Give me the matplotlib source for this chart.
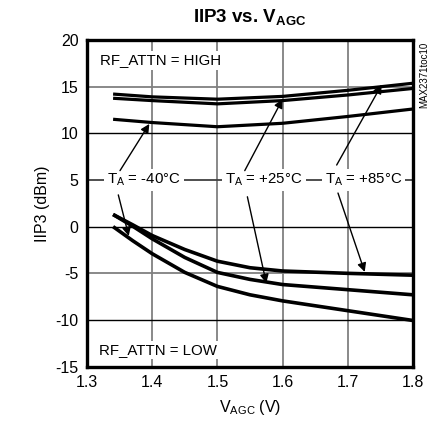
import matplotlib
matplotlib.use('Agg')
import matplotlib.pyplot as plt

plt.rcParams['font.family'] = ['Liberation Sans', 'DejaVu Sans']
plt.rcParams['mathtext.fontset'] = 'custom'
plt.rcParams['mathtext.rm'] = 'Liberation Sans'
plt.rcParams['mathtext.bf'] = 'Liberation Sans:bold'

# RF_ATTN = HIGH curves
vagc_high = [1.34, 1.4, 1.5, 1.6, 1.7, 1.8]
high_85 = [14.2, 13.9, 13.65, 13.95, 14.6, 15.36]
high_25 = [13.75, 13.5, 13.15, 13.5, 14.1, 14.8]
high_m40 = [11.5, 11.15, 10.7, 11.07, 11.8, 12.6]

# RF_ATTN = LOW curves
vagc_low = [1.34, 1.37, 1.4, 1.45, 1.5, 1.55, 1.6, 1.7, 1.8]
low_85 = [1.3, 0.2, -0.95, -2.45, -3.7, -4.4, -4.75, -5.0, -5.2]
low_25 = [1.3, 0.05, -1.3, -3.3, -4.9, -5.65, -6.2, -6.75, -7.3]
low_m40 = [0.0, -1.5, -2.9, -4.9, -6.4, -7.3, -7.95, -9.0, -10.05]

fig = plt.figure(figsize=(4.34, 4.30), dpi=100)
ax = fig.add_axes([0.2005, 0.1472, 0.751, 0.760])

for xv in [1.4, 1.5, 1.6, 1.7]:
    ax.axvline(xv, color='#808080', lw=1.3, zorder=1)
for yv, c in [(15, '#808080'), (10, 'black'), (5, '#404040'), (0, 'black'), (-5, '#808080'), (-10, 'black')]:
    ax.axhline(yv, color=c, lw=1.0 if c == 'black' else 1.3, zorder=1)

for ys in [high_85, high_25, high_m40]:
    ax.plot(vagc_high, ys, color='black', lw=2.3, zorder=3, solid_capstyle='butt')
for ys in [low_85, low_25, low_m40]:
    ax.plot(vagc_low, ys, color='black', lw=2.6, zorder=3, solid_capstyle='butt')

ax.set_xlim(1.3, 1.8)
ax.set_ylim(-15, 20)
ax.set_xticks([1.3, 1.4, 1.5, 1.6, 1.7, 1.8])
ax.set_xticklabels(['1.3', '1.4', '1.5', '1.6', '1.7', '1.8'])
ax.set_yticks([-15, -10, -5, 0, 5, 10, 15, 20])
ax.set_yticklabels(['-15', '-10', '-5', '0', '5', '10', '15', '20'])
ax.tick_params(length=0, labelsize=11.5, pad=6)
for s in ax.spines.values():
    s.set_linewidth(2.4)
    s.set_zorder(5)

box = dict(facecolor='white', edgecolor='none', pad=1.5)
ax.text(1.320, 17.8, 'RF_ATTN = HIGH', fontsize=10.8, va='center', ha='left', bbox=box, zorder=4)
ax.text(1.318, -13.2, 'RF_ATTN = LOW', fontsize=10.8, va='center', ha='left', bbox=box, zorder=4)

labels = [(1.3874, r'T$_{\mathregular{A}}$ = -40°C'),
          (1.5715, r'T$_{\mathregular{A}}$ = +25°C'),
          (1.7238, r'T$_{\mathregular{A}}$ = +85°C')]
for xc, lab in labels:
    ax.text(xc, 5.0, lab, fontsize=10.8, ha='center', va='center', bbox=dict(facecolor='white', edgecolor='none', pad=2), zorder=4)

arrow = dict(arrowstyle='-|>', color='black', lw=1.0, mutation_scale=13, shrinkA=0, shrinkB=0)
ax.annotate('', xy=(1.3956, 11.0), xytext=(1.3506, 6.0), arrowprops=arrow, zorder=6)
ax.annotate('', xy=(1.364, -1.0), xytext=(1.348, 3.4), arrowprops=arrow, zorder=6)
ax.annotate('', xy=(1.600, 13.65), xytext=(1.542, 6.0), arrowprops=arrow, zorder=6)
ax.annotate('', xy=(1.575, -6.05), xytext=(1.546, 3.2), arrowprops=arrow, zorder=6)
ax.annotate('', xy=(1.752, 15.2), xytext=(1.683, 6.6), arrowprops=arrow, zorder=6)
ax.annotate('', xy=(1.726, -4.85), xytext=(1.685, 3.6), arrowprops=arrow, zorder=6)

ax.set_xlabel(r'V$_{\mathregular{AGC}}$ (V)', fontsize=11.5, labelpad=6)
ax.set_ylabel('IIP3 (dBm)', fontsize=11.5, labelpad=4)
fig.text(0.576, 0.958, r'IIP3 vs. V$_{\mathbf{AGC}}$', fontsize=13.5, fontweight='bold', ha='center', va='center')
fig.text(0.977, 0.825, 'MAX2371toc10', fontsize=7, rotation=90, ha='center', va='center')

fig.savefig('out.png', dpi=100)
